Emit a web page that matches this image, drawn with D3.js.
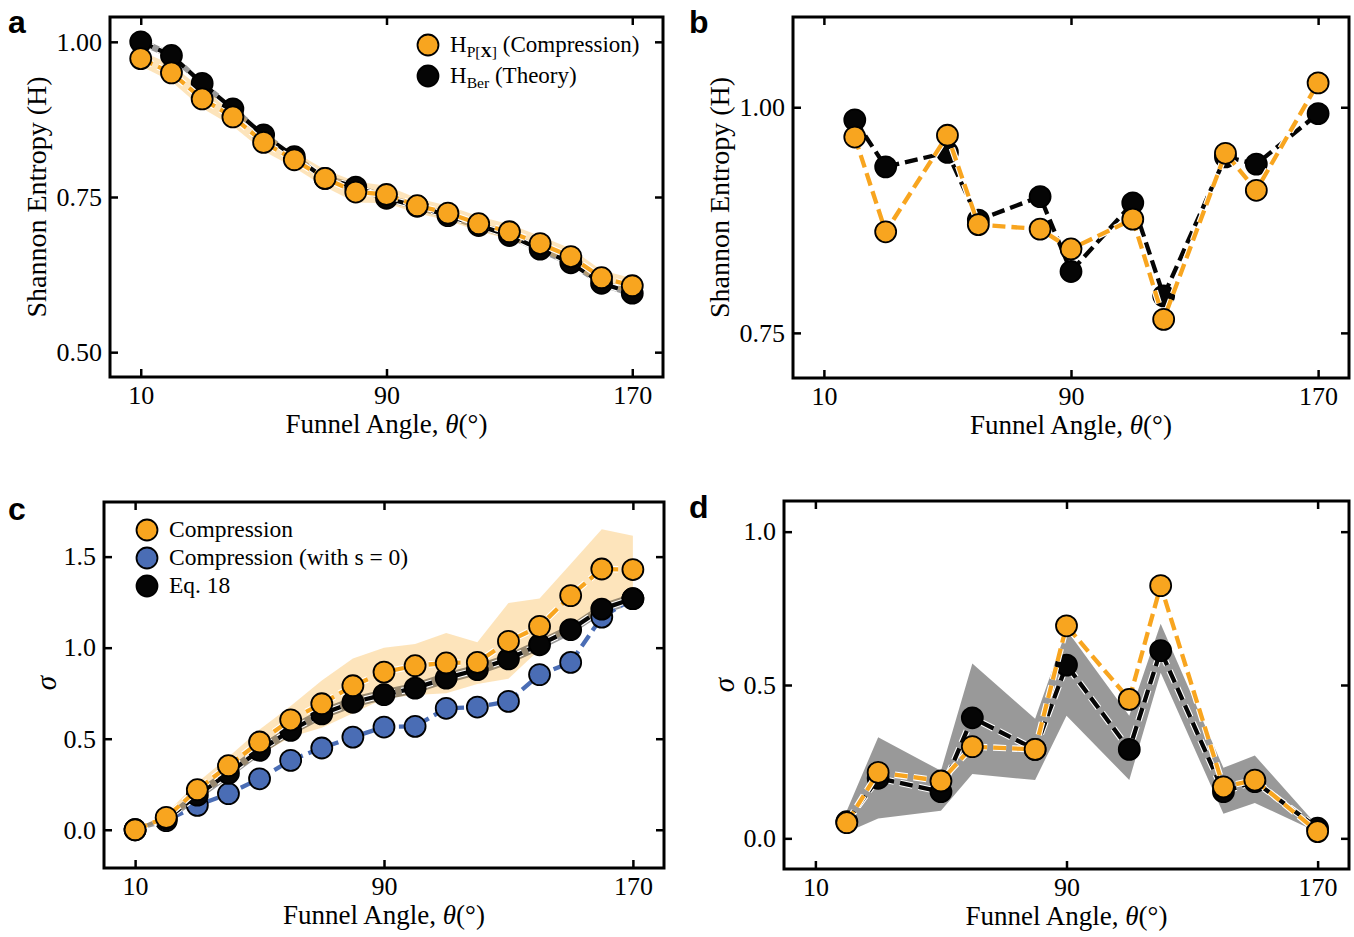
<!DOCTYPE html>
<html>
<head>
<meta charset="utf-8">
<script src="https://cdn.jsdelivr.net/npm/d3@7"></script>
<style>
    body { margin: 0; background: #fff; }
    text { font-family: "Liberation Serif", "DejaVu Serif", serif; fill: #000; }
    .panelLetter { font-family: "Liberation Sans", Arial, sans-serif; font-weight: bold; font-size: 32px; }
</style>
</head>
<body>
<div id="chart"></div>
<script>
// angles used in panels a and c
var angles = [10, 20, 30, 40, 50, 60, 70, 80, 90, 100, 110, 120, 130, 140, 150, 160, 170];
// angles used in panels b and d
var subAngles = [20, 30, 50, 60, 80, 90, 110, 120, 140, 150, 170];
var xTicks = [10, 90, 170];

// panel a
var aCompression = [0.973, 0.950, 0.908, 0.879, 0.838, 0.810, 0.780, 0.758, 0.754, 0.736, 0.724, 0.707, 0.694, 0.675, 0.654, 0.620, 0.607];
var aCompressionErr = [0.012, 0.014, 0.015, 0.015, 0.014, 0.013, 0.014, 0.017, 0.014, 0.012, 0.012, 0.012, 0.012, 0.012, 0.013, 0.012, 0.012];
var aTheory = [1.000, 0.978, 0.933, 0.892, 0.850, 0.815, 0.780, 0.766, 0.748, 0.735, 0.720, 0.704, 0.688, 0.666, 0.644, 0.611, 0.595];
var aTheoryErr = [0.006, 0.006, 0.006, 0.006, 0.006, 0.006, 0.006, 0.006, 0.006, 0.006, 0.006, 0.006, 0.006, 0.006, 0.006, 0.006, 0.006];
var aYTicks = [0.50, 0.75, 1.00];

// panel b
var bCompression = [0.967, 0.862, 0.969, 0.870, 0.865, 0.843, 0.876, 0.765, 0.949, 0.908, 1.027];
var bTheory = [0.986, 0.934, 0.950, 0.875, 0.901, 0.818, 0.894, 0.791, 0.945, 0.937, 0.993];
var bYTicks = [0.75, 1.00];

// panel c
var cCompression = [0.00, 0.068, 0.22, 0.352, 0.482, 0.604, 0.692, 0.791, 0.866, 0.901, 0.916, 0.919, 1.035, 1.117, 1.286, 1.432, 1.429];
var cCompressionLo = [0.00, 0.05, 0.17, 0.29, 0.41, 0.51, 0.56, 0.64, 0.72, 0.74, 0.75, 0.80, 0.83, 0.99, 1.10, 1.20, 1.25];
var cCompressionHi = [0.00, 0.09, 0.26, 0.40, 0.55, 0.68, 0.82, 0.94, 1.00, 1.02, 1.08, 1.03, 1.245, 1.27, 1.46, 1.65, 1.615];
var cNoShift = [0.00, 0.05, 0.134, 0.198, 0.28, 0.381, 0.449, 0.509, 0.564, 0.568, 0.667, 0.674, 0.705, 0.852, 0.919, 1.168, 1.269];
var cEq18 = [0.00, 0.059, 0.19, 0.31, 0.436, 0.546, 0.636, 0.70, 0.742, 0.778, 0.833, 0.879, 0.938, 1.016, 1.099, 1.212, 1.269];
var cEq18Err = [0.01, 0.02, 0.03, 0.03, 0.03, 0.03, 0.03, 0.03, 0.03, 0.03, 0.03, 0.03, 0.03, 0.03, 0.03, 0.03, 0.03];
var cYTicks = [0.0, 0.5, 1.0, 1.5];

// panel d
var dCompression = [0.051, 0.215, 0.187, 0.299, 0.29, 0.693, 0.453, 0.824, 0.168, 0.19, 0.022];
var dTheory = [0.054, 0.196, 0.152, 0.393, 0.29, 0.565, 0.29, 0.612, 0.152, 0.185, 0.033];
var dTheoryLo = [0.02, 0.065, 0.09, 0.21, 0.19, 0.40, 0.19, 0.54, 0.08, 0.115, 0.02];
var dTheoryHi = [0.09, 0.33, 0.22, 0.57, 0.39, 0.68, 0.40, 0.70, 0.23, 0.27, 0.04];
var dYTicks = [0.0, 0.5, 1.0];

var ORANGE = "#f8a51f";
var BLUE = "#4a6db5";
var BLACK = "#050505";

function init() {
    var w = 1354;
    var h = 937;

    var svg = d3.select("#chart")
                .append("svg")
                .attr("width", w)
                .attr("height", h);

    function makePanel(p) {
        var xScale = d3.scaleLinear().domain([0, 180]).range([p.left, p.right]);
        var yScale = d3.scaleLinear().domain(p.yDomain).range([p.bottom, p.top]);
        var g = svg.append("g");

        //inward ticks on all four sides
        g.append("g")
            .attr("transform", "translate(0," + p.bottom + ")")
            .call(d3.axisBottom(xScale).tickValues(xTicks).tickSize(-8).tickPadding(9).tickFormat(d3.format("d")));
        g.append("g")
            .attr("transform", "translate(0," + p.top + ")")
            .call(d3.axisTop(xScale).tickValues(xTicks).tickSize(-8).tickFormat(""));
        g.append("g")
            .attr("transform", "translate(" + p.left + ",0)")
            .call(d3.axisLeft(yScale).tickValues(p.yTicks).tickSize(-8).tickPadding(8).tickFormat(d3.format(p.fmt)));
        g.append("g")
            .attr("transform", "translate(" + p.right + ",0)")
            .call(d3.axisRight(yScale).tickValues(p.yTicks).tickSize(-8).tickFormat(""));

        g.selectAll(".domain").remove();
        g.selectAll(".tick line").attr("stroke", "#000").attr("stroke-width", 2.5);
        g.selectAll(".tick text").style("font-size", "26px").style("font-family", "'Liberation Serif', serif");

        g.append("rect")
            .attr("x", p.left)
            .attr("y", p.top)
            .attr("width", p.right - p.left)
            .attr("height", p.bottom - p.top)
            .attr("fill", "none")
            .attr("stroke", "#000")
            .attr("stroke-width", 3);

        //x label
        var xl = g.append("text")
            .attr("x", (p.left + p.right) / 2)
            .attr("y", p.bottom + 56)
            .attr("text-anchor", "middle")
            .style("font-size", "27px");
        xl.append("tspan").text("Funnel Angle, ");
        xl.append("tspan").style("font-style", "italic").text("θ");
        xl.append("tspan").text("(°)");

        //y label
        g.append("text")
            .attr("transform", "translate(" + p.yLabelX + "," + ((p.top + p.bottom) / 2 + p.yLabelDy) + ") rotate(-90)")
            .attr("text-anchor", "middle")
            .attr("dominant-baseline", "central")
            .style("font-size", p.yLabelItalic ? "29px" : "28px")
            .style("font-style", p.yLabelItalic ? "italic" : "normal")
            .text(p.yLabel);

        g.append("text")
            .attr("class", "panelLetter")
            .attr("x", p.letterX)
            .attr("y", p.letterY)
            .text(p.letter);

        //plot area content is clipped by the frame
        var clipId = "clip" + p.letter;
        svg.append("clipPath").attr("id", clipId)
            .append("rect")
            .attr("x", p.left).attr("y", p.top)
            .attr("width", p.right - p.left).attr("height", p.bottom - p.top);
        var plot = svg.append("g").attr("clip-path", "url(#" + clipId + ")");

        return { x: xScale, y: yScale, plot: plot };
    }

    function band(panel, xs, lo, hi, color, opacity) {
        var area = d3.area()
            .x(function(d, i) { return panel.x(xs[i]); })
            .y0(function(d, i) { return panel.y(lo[i]); })
            .y1(function(d, i) { return panel.y(hi[i]); });
        panel.plot.append("path")
            .datum(xs)
            .attr("d", area)
            .attr("fill", color)
            .attr("fill-opacity", opacity)
            .attr("stroke", "none");
    }

    function series(panel, xs, ys, color) {
        var line = d3.line()
            .x(function(d, i) { return panel.x(xs[i]); })
            .y(function(d) { return panel.y(d); });
        //white outline under the dashes
        panel.plot.append("path")
            .datum(ys)
            .attr("d", line)
            .attr("fill", "none")
            .attr("stroke", "#fff")
            .attr("stroke-width", 6.5)
            .attr("stroke-dasharray", "13,6");
        panel.plot.append("path")
            .datum(ys)
            .attr("d", line)
            .attr("fill", "none")
            .attr("stroke", color)
            .attr("stroke-width", 4.3)
            .attr("stroke-dasharray", "13,6");
        panel.plot.selectAll(null)
            .data(ys)
            .enter()
            .append("circle")
            .attr("cx", function(d, i) { return panel.x(xs[i]); })
            .attr("cy", function(d) { return panel.y(d); })
            .attr("r", 10.5)
            .attr("fill", color)
            .attr("stroke", "#000")
            .attr("stroke-width", 1.8);
    }

    function legend(items, cx, y0, step, fontSize) {
        items.forEach(function(item, i) {
            var y = y0 + i * step;
            svg.append("circle")
                .attr("cx", cx).attr("cy", y).attr("r", 10.5)
                .attr("fill", item.color).attr("stroke", "#000").attr("stroke-width", 1.8);
            var t = svg.append("text")
                .attr("x", cx + 22)
                .attr("y", y + 7)
                .style("font-size", fontSize + "px");
            item.parts.forEach(function(part) {
                var ts = t.append("tspan").text(part.text);
                if (part.sub) ts.style("font-size", (fontSize * 0.68) + "px");
                if (part.bold) ts.style("font-weight", "bold");
                if (part.dy) ts.attr("dy", part.dy);
            });
        });
    }

    // ---- panel a
    var pa = makePanel({
        left: 110, right: 663, top: 17, bottom: 377,
        yDomain: [0.46, 1.04], yTicks: aYTicks, fmt: ".2f",
        yLabel: "Shannon Entropy (H)", yLabelX: 36, yLabelDy: 0,
        letter: "a", letterX: 8, letterY: 33
    });
    band(pa, angles, aTheory.map(function(v, i) { return v - aTheoryErr[i]; }),
         aTheory.map(function(v, i) { return v + aTheoryErr[i]; }), "#000", 0.4);
    band(pa, angles, aCompression.map(function(v, i) { return v - aCompressionErr[i]; }),
         aCompression.map(function(v, i) { return v + aCompressionErr[i]; }), ORANGE, 0.3);
    series(pa, angles, aTheory, BLACK);
    series(pa, angles, aCompression, ORANGE);
    legend([
        { color: ORANGE, parts: [{ text: "H" }, { text: "P[", sub: true, dy: 5 }, { text: "X", sub: true, bold: true }, { text: "]", sub: true }, { text: " (Compression)", dy: -5 }] },
        { color: BLACK, parts: [{ text: "H" }, { text: "Ber", sub: true, dy: 5 }, { text: " (Theory)", dy: -5 }] }
    ], 428, 45, 31, 23);

    // ---- panel b
    var pb = makePanel({
        left: 793, right: 1349, top: 17, bottom: 378,
        yDomain: [0.70, 1.10], yTicks: bYTicks, fmt: ".2f",
        yLabel: "Shannon Entropy (H)", yLabelX: 719, yLabelDy: 0,
        letter: "b", letterX: 689, letterY: 33
    });
    series(pb, subAngles, bTheory, BLACK);
    series(pb, subAngles, bCompression, ORANGE);

    // ---- panel c
    var pc = makePanel({
        left: 104, right: 664, top: 502, bottom: 868,
        yDomain: [-0.21, 1.80], yTicks: cYTicks, fmt: ".1f",
        yLabel: "σ", yLabelX: 46, yLabelDy: -2, yLabelItalic: true,
        letter: "c", letterX: 8, letterY: 520
    });
    band(pc, angles, cCompressionLo, cCompressionHi, ORANGE, 0.3);
    band(pc, angles, cEq18.map(function(v, i) { return v - cEq18Err[i]; }),
         cEq18.map(function(v, i) { return v + cEq18Err[i]; }), "#000", 0.4);
    series(pc, angles, cNoShift, BLUE);
    series(pc, angles, cEq18, BLACK);
    series(pc, angles, cCompression, ORANGE);
    legend([
        { color: ORANGE, parts: [{ text: "Compression" }] },
        { color: BLUE, parts: [{ text: "Compression (with s = 0)" }] },
        { color: BLACK, parts: [{ text: "Eq. 18" }] }
    ], 147, 530, 28, 23.5);

    // ---- panel d
    var pd = makePanel({
        left: 784, right: 1349, top: 501, bottom: 869,
        yDomain: [-0.10, 1.10], yTicks: dYTicks, fmt: ".1f",
        yLabel: "σ", yLabelX: 724, yLabelDy: 0, yLabelItalic: true,
        letter: "d", letterX: 689, letterY: 518
    });
    band(pd, subAngles, dTheoryLo, dTheoryHi, "#000", 0.4);
    series(pd, subAngles, dTheory, BLACK);
    series(pd, subAngles, dCompression, ORANGE);
}
window.onload = init;
</script>
</body>
</html>
